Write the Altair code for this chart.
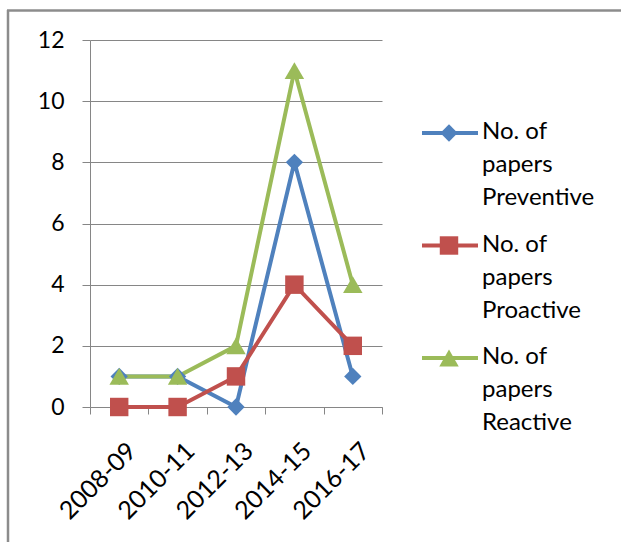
import altair as alt
import pandas as pd

periods = ["2008-09", "2010-11", "2012-13", "2014-15", "2016-17"]
series_names = ["No. of papers Preventive", "No. of papers Proactive", "No. of papers Reactive"]
legend_text = ["No. of\npapers\nPreventive", "No. of\npapers\nProactive", "No. of\npapers\nReactive"]
preventive = [1, 1, 0, 8, 1]
proactive = [0, 0, 1, 4, 2]
reactive = [1, 1, 2, 11, 4]
colors = ["#4F81BD", "#C0504D", "#9BBB59"]
shapes = ["diamond", "square", "triangle-up"]
shape_sizes = [300, 380, 420]

rows = []
for name, vals in zip(series_names, [preventive, proactive, reactive]):
    for p, v in zip(periods, vals):
        rows.append({"period": p, "value": v, "series": name})
df = pd.DataFrame(rows)

leg = pd.DataFrame({"series": series_names, "label": legend_text})

FONT = "Lato"
W, H = 292, 367

color_scale = alt.Scale(domain=series_names, range=colors)
shape_scale = alt.Scale(domain=series_names, range=shapes)
size_scale = alt.Scale(domain=series_names, range=shape_sizes)

x_enc = alt.X(
    "period:N",
    sort=periods,
    scale=alt.Scale(type="band", paddingInner=0, paddingOuter=0),
    bandPosition=0.5,
    axis=alt.Axis(
        title=None, labelAngle=-45, tickBand="extent", grid=False,
        domainColor="#868686", tickColor="#868686", tickSize=7,
        labelFont=FONT, labelFontSize=25, labelColor="#000000", labelPadding=24,
        labelOffset=4,
    ),
)
y_enc = alt.Y(
    "value:Q",
    scale=alt.Scale(domain=[0, 12], nice=False),
    axis=alt.Axis(
        title=None, values=[0, 2, 4, 6, 8, 10, 12], grid=True, gridColor="#868686",
        gridWidth=1, domainColor="#868686", tickColor="#868686", tickSize=8,
        labelFont=FONT, labelFontSize=23, labelColor="#000000", labelPadding=18,
    ),
)

base = alt.Chart(df)
lines = base.mark_line(strokeWidth=4).encode(
    x=x_enc, y=y_enc,
    color=alt.Color("series:N", scale=color_scale, legend=None),
    detail="series:N",
)
points = base.mark_point(filled=True, opacity=1).encode(
    x=x_enc, y=y_enc,
    color=alt.Color("series:N", scale=color_scale, legend=None),
    shape=alt.Shape("series:N", scale=shape_scale, legend=None),
    size=alt.Size("series:N", scale=size_scale, legend=None),
)
main = alt.layer(lines, points)

ly = alt.Y("series:N",
           scale=alt.Scale(type="point", domain=series_names, range=[93, 318], padding=0),
           axis=None)
lbase = alt.Chart(leg)
leg_rule = lbase.mark_rule(strokeWidth=4).encode(
    x=alt.value(332), x2=alt.value(388), y=ly,
    color=alt.Color("series:N", scale=color_scale, legend=None),
)
leg_pt = lbase.mark_point(filled=True, opacity=1).encode(
    x=alt.value(359), y=ly,
    color=alt.Color("series:N", scale=color_scale, legend=None),
    shape=alt.Shape("series:N", scale=shape_scale, legend=None),
    size=alt.Size("series:N", scale=size_scale, legend=None),
)
leg_txt = lbase.mark_text(
    align="left", baseline="top", font=FONT, fontSize=24, lineBreak="\n",
    lineHeight=33, dy=-13, color="#000000",
).encode(x=alt.value(392), y=ly, text="label:N")
legend_layer = alt.layer(leg_rule, leg_pt, leg_txt)

frame_df = pd.DataFrame({"f": [0]})
frame_top = alt.Chart(frame_df).mark_rule(color="#8c8c8c", strokeWidth=2.5).encode(
    x=alt.value(-83), x2=alt.value(W + 239), y=alt.value(-29.5)
)
frame_left = alt.Chart(frame_df).mark_rule(color="#8c8c8c", strokeWidth=2.5).encode(
    x=alt.value(-82), y=alt.value(-30), y2=alt.value(H + 135)
)

chart = alt.layer(main, legend_layer, frame_top, frame_left).resolve_scale(
    y="independent"
).properties(
    width=W, height=H,
    autosize=alt.AutoSizeParams(type="none"),
    padding={"left": 90, "top": 40, "right": 239, "bottom": 135},
    background="#ffffff",
).configure_view(stroke=None)

chart.save("out.html", embed_options={"renderer": "svg", "actions": False})
